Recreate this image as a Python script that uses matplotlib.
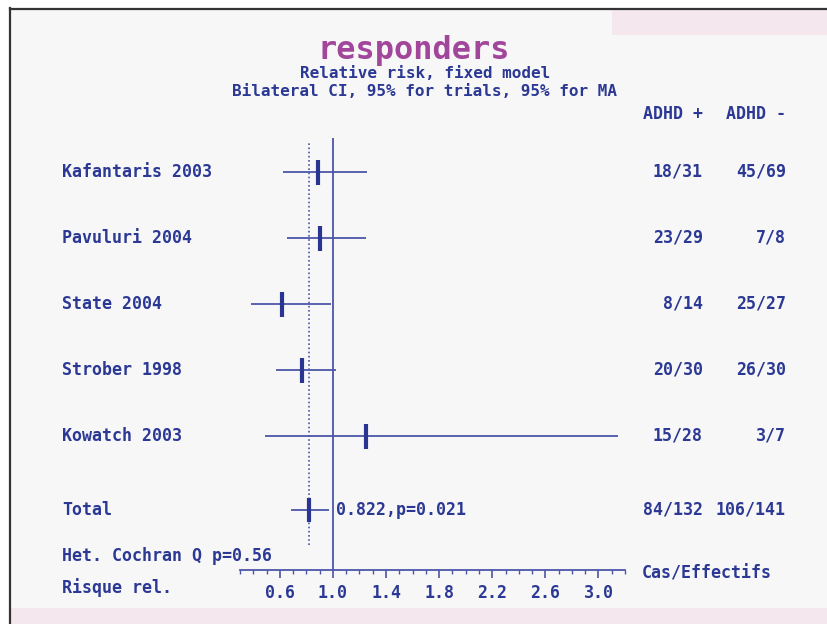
import matplotlib.pyplot as plt
import matplotlib.transforms as mtransforms
import numpy as np

# study data
studies = ["Kafantaris 2003", "Pavuluri 2004", "State 2004", "Strober 1998", "Kowatch 2003"]
rr = [0.89, 0.906, 0.617, 0.769, 1.25]
ci_low = [0.625, 0.656, 0.38, 0.568, 0.488]
ci_high = [1.258, 1.251, 0.985, 1.025, 3.145]
adhd_pos = ["18/31", "23/29", "8/14", "20/30", "15/28"]
adhd_neg = ["45/69", "7/8", "25/27", "26/30", "3/7"]

total_rr = 0.822
total_low = 0.683
total_high = 0.97
total_pos = "84/132"
total_neg = "106/141"
total_label = "0.822,p=0.021"
het_label = "Het. Cochran Q p=0.56"

major_ticks = [0.6, 1.0, 1.4, 1.8, 2.2, 2.6, 3.0]
tick_labels = ["0.6", "1.0", "1.4", "1.8", "2.2", "2.6", "3.0"]

TXT = "#2b3894"
LINE = "#4c56a8"
MARK = "#2a3592"
TITLE = "#a2469b"
BG = "#f7f7f7"
PINK = "#f4e8ee"
FONT = "DejaVu Sans Mono"
FS = 12

W, H = 828, 624
fig = plt.figure(figsize=(W / 100, H / 100), dpi=100)
fig.patch.set_facecolor("white")

# background / pixel layer
bg = fig.add_axes([0, 0, 1, 1])
bg.set_xlim(0, W)
bg.set_ylim(H, 0)
bg.axis("off")
bg.add_patch(plt.Rectangle((10, 8), W - 10, H - 8, facecolor=BG, edgecolor="none"))
bg.add_patch(plt.Rectangle((612, 10), W - 612, 25, facecolor=PINK, edgecolor="none"))
bg.add_patch(plt.Rectangle((11, 608), W - 11, H - 608, facecolor=PINK, edgecolor="none"))
bg.plot([10, W], [8.5, 8.5], color="#333333", lw=1.6)
bg.plot([10.5, 10.5], [8, H], color="#333333", lw=1.6)

# forest axes: x in relative risk, y in rows
ax_top, ax_bot = 138, 570
ax = fig.add_axes([240 / W, 1 - ax_bot / H, (625 - 240) / W, (ax_bot - ax_top) / H])
ax.set_facecolor("none")
ax.set_xlim(0.3, 3.2)
row0, step = 172, 66
ax.set_ylim((ax_bot - row0) / step, (ax_top - row0) / step)
rows = np.arange(len(studies))
total_row = (510 - row0) / step

for s in ["top", "left", "right"]:
    ax.spines[s].set_visible(False)
ax.spines["bottom"].set_color(LINE)
ax.spines["bottom"].set_linewidth(1.3)
ax.set_yticks([])
ax.set_xticks(major_ticks)
ax.set_xticklabels(tick_labels)
ax.set_xticks(np.arange(3, 33) / 10, minor=True)
ax.tick_params(axis="x", which="major", direction="out", length=6, width=1.2,
               color=LINE, pad=4, labelcolor=TXT, labelsize=FS)
ax.tick_params(axis="x", which="minor", direction="out", length=3, width=1.0, color=LINE)
for lab in ax.get_xticklabels():
    lab.set_fontfamily(FONT)
    lab.set_fontweight("bold")

ax.axvline(1.0, ymin=0, ymax=1, color=LINE, lw=1.3)
ax.axvline(total_rr, ymin=(ax_bot - 545) / (ax_bot - ax_top), ymax=(ax_bot - 143) / (ax_bot - ax_top),
           color=LINE, lw=1.2, ls=(0, (1, 1.5)))

ax.hlines(rows, ci_low, ci_high, color=LINE, lw=1.3)
ax.plot(rr, rows, ls="none", marker="|", ms=18, mew=3, color=MARK)
ax.hlines([total_row], [total_low], [total_high], color=LINE, lw=1.3)
ax.plot([total_rr], [total_row], ls="none", marker="|", ms=17, mew=3, color=MARK)

# text
tkw = dict(fontfamily=FONT, fontweight="bold", color=TXT, fontsize=FS)
sub = dict(tkw, fontsize=11.5)
bg.text(414, 50, "responders", ha="center", va="center", fontfamily=FONT,
        fontweight="bold", color=TITLE, fontsize=23)
bg.text(425, 74, "Relative risk, fixed model", ha="center", va="center", **sub)
bg.text(425, 91, "Bilateral CI, 95% for trials, 95% for MA", ha="center", va="center", **sub)
bg.text(703, 114, "ADHD +", ha="right", va="center", **tkw)
bg.text(786, 114, "ADHD -", ha="right", va="center", **tkw)

mix = mtransforms.blended_transform_factory(bg.transData, ax.transData)
for i, name in enumerate(studies):
    ax.text(62, rows[i], name, transform=mix, ha="left", va="center", **tkw)
    ax.text(703, rows[i], adhd_pos[i], transform=mix, ha="right", va="center", **tkw)
    ax.text(786, rows[i], adhd_neg[i], transform=mix, ha="right", va="center", **tkw)
ax.text(62, total_row, "Total", transform=mix, ha="left", va="center", **tkw)
ax.text(703, total_row, total_pos, transform=mix, ha="right", va="center", **tkw)
ax.text(786, total_row, total_neg, transform=mix, ha="right", va="center", **tkw)
ax.text(336, total_row, total_label, transform=mix, ha="left", va="center", **tkw)

bg.text(62, 556, het_label, ha="left", va="center", **tkw)
bg.text(642, 574, "Cas/Effectifs", ha="left", va="center", **tkw)
bg.text(62, 588, "Risque rel.", ha="left", va="center", **tkw)

fig.savefig("out.png", dpi=100, facecolor=fig.get_facecolor())
